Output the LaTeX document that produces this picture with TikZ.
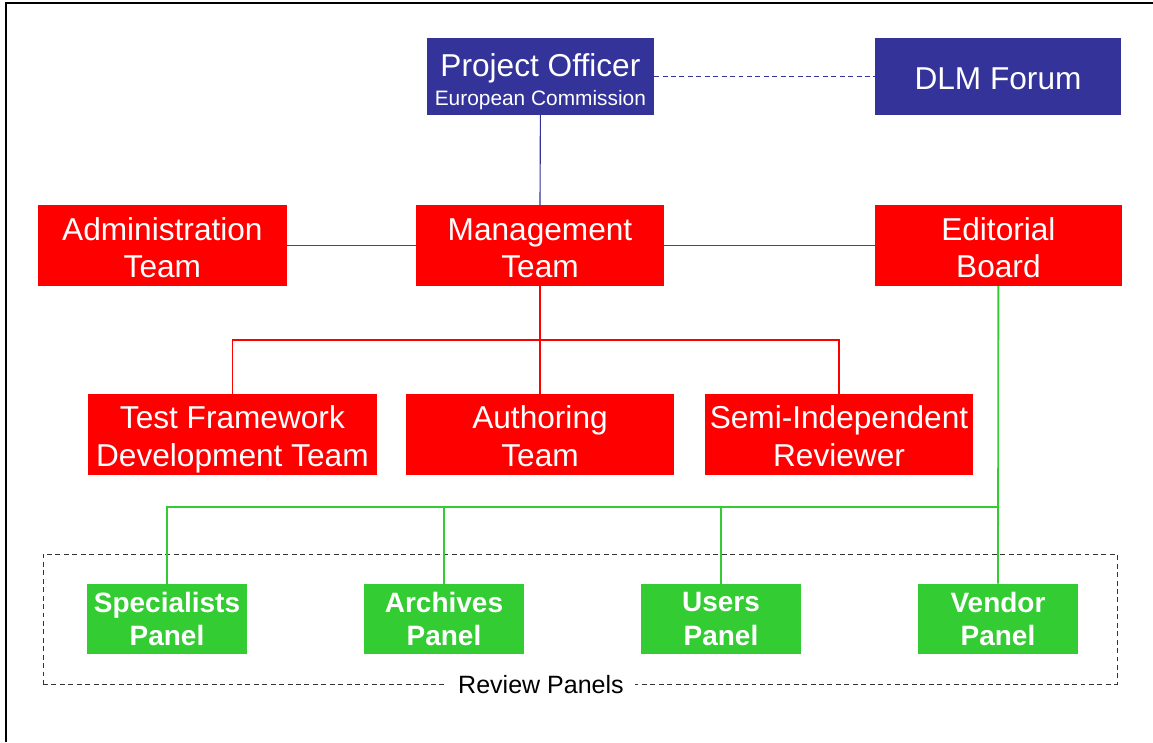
\documentclass[tikz,border=0pt]{standalone}
\usepackage{fontspec}
\setmainfont{Liberation Sans}
\usetikzlibrary{positioning}
\definecolor{poblue}{HTML}{333399}
\definecolor{teamred}{HTML}{FF0000}
\definecolor{panelgreen}{HTML}{33CC33}
\newcommand{\teamstrut}{\rule{0pt}{24.7pt}}
\tikzset{
  bluebox/.style = {fill=poblue, text=white, inner sep=0pt, minimum height=1.925cm, align=center, font=\fontsize{22.5}{21}\selectfont},
  redbox/.style = {fill=teamred, text=white, inner sep=0pt, minimum height=1.975cm, align=center, font=\fontsize{22.5}{26.5}\selectfont,
    execute at end node=\rule[-6pt]{0pt}{6pt}},
  panelbox/.style = {fill=panelgreen, text=white, inner sep=0pt, minimum width=4cm, minimum height=1.75cm, align=center, font=\bfseries\fontsize{19.9}{23.5}\selectfont},
  blueline/.style = {poblue, line width=0.8pt},
  redline/.style = {teamred, line width=1.2pt},
  greenline/.style = {panelgreen, line width=1.3pt},
  reviewbox/.style = {draw=black!80, line width=0.7pt, dash pattern=on 3.5pt off 2.5pt, minimum width=26.85cm, minimum height=3.25cm, inner sep=0pt},
}

\begin{document}
\begin{tikzpicture}
\useasboundingbox (0,0) rectangle (28.825,-18.55);
\draw[line width=1pt] (0.15,-18.55) -- (0.15,-0.075) -- (28.825,-0.075);

% Top level
\node[bluebox, minimum width=5.675cm] (po) at (13.51,-1.91) {\rule{0pt}{23.6pt}Project Officer\\{\fontsize{14.85}{21}\selectfont European Commission}};
\node[bluebox, minimum width=6.15cm] (dlm) at (24.95,-1.91) {\rule{0pt}{19.2pt}DLM Forum};

% Management row
\node[redbox, minimum width=6.225cm] (admin) at (4.06,-6.14) {\teamstrut Administration\\Team};
\node[redbox, minimum width=6.2cm] (mgmt) at (13.5,-6.14) {\teamstrut Management\\Team};
\node[redbox, minimum width=6.175cm] (editorial) at (24.96,-6.14) {\teamstrut Editorial\\Board};

% Teams
\node[redbox, minimum width=7.225cm] (testfw) at (5.81,-10.86) {\teamstrut Test Framework\\Development Team};
\node[redbox, minimum width=6.7cm] (authoring) at (13.5,-10.86) {\teamstrut Authoring\\Team};
\node[redbox, minimum width=6.7cm] (semi) at (20.975,-10.86) {\teamstrut Semi-Independent\\Reviewer};

% Review panels
\node[reviewbox] (review) at (14.5,-15.475) {};
\node[panelbox] (specialists) at (4.175,-15.475) {Specialists\\Panel};
\node[panelbox] (archives) at (11.1,-15.475) {Archives\\Panel};
\node[panelbox] (users) at (18.025,-15.475) {Users\\Panel};
\node[panelbox] (vendor) at (24.95,-15.475) {Vendor\\Panel};
\node[fill=white, inner xsep=8pt, inner ysep=2pt, font=\fontsize{17.8}{20}\selectfont] (reviewlabel) at (review.south -| 13.525,0) {Review Panels};

% Connectors
\draw[blueline] (po.south) -- (mgmt.north);
\draw[blueline, dash pattern=on 3.5pt off 2.5pt] (po.east) -- (dlm.west);
\draw[redline] (admin.east) -- (mgmt.west);
\draw[redline] (mgmt.east) -- (editorial.west);

\coordinate (redbus) at (13.5,-8.5);
\draw[redline] (mgmt.south) -- (redbus) -- (authoring.north);
\draw[redline] (testfw.north) |- (redbus) -| (semi.north);

\coordinate (greenbus) at (editorial.south |- 0,-12.675);
\draw[greenline] (editorial.south) -- (vendor.north);
\draw[greenline] (specialists.north) |- (greenbus);
\draw[greenline] (archives.north) -- (archives.north |- greenbus);
\draw[greenline] (users.north) -- (users.north |- greenbus);

\end{tikzpicture}
\end{document}
